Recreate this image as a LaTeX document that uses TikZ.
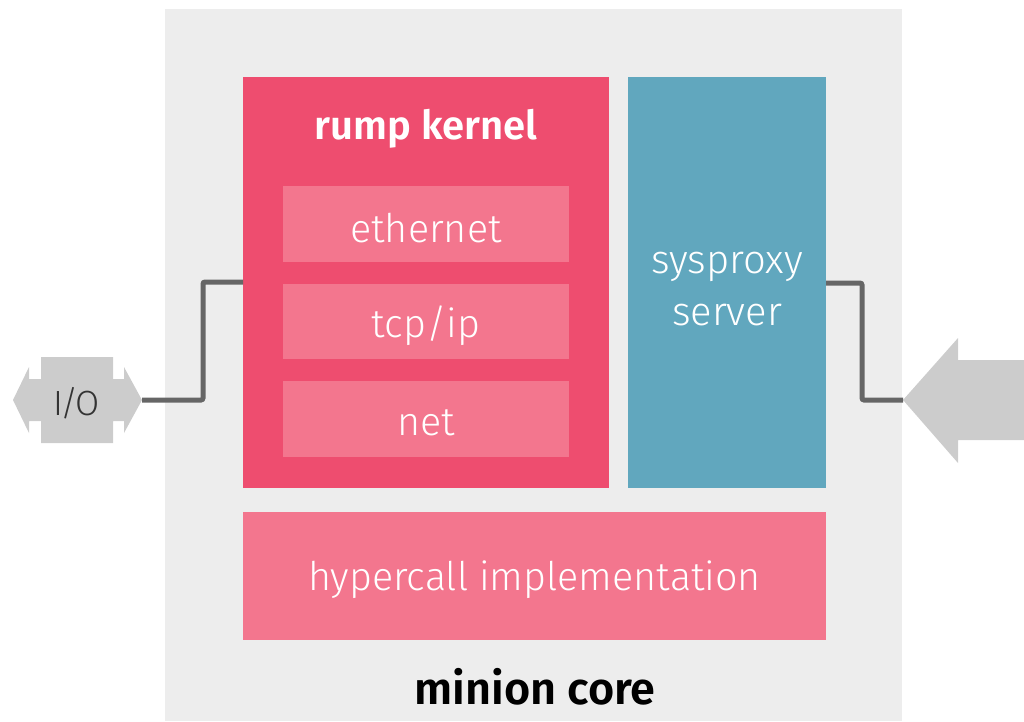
\documentclass[tikz,border=0pt]{standalone}
\usepackage{fontspec}
\setmainfont{Fira Sans Light}[BoldFont={Fira Sans SemiBold}]
\definecolor{corebg}{HTML}{EDEDED}
\definecolor{rumpred}{HTML}{EE4D6F}
\definecolor{layerpink}{HTML}{F3768E}
\definecolor{proxyblue}{HTML}{61A7BE}
\definecolor{portgray}{HTML}{CCCCCC}
\definecolor{wiregray}{HTML}{666666}
\definecolor{labeldark}{HTML}{333333}
\tikzset{
  px/.style={x=1pt,y=-1pt},
  block/.style={anchor=north west,inner sep=0pt,outer sep=0pt,text=white,align=center},
  layer/.style={block,fill=layerpink},
  lighttext/.style={font=\fontsize{39.5}{46}\selectfont,text=white,yshift=-4pt},
  wire/.style={draw=wiregray,line width=5pt,rounded corners=2pt},
  port/.style={fill=portgray,draw=none},
}
\begin{document}
\begin{tikzpicture}[px]
\useasboundingbox (0,0) rectangle (1024,721);
% minion core container
\node[block,fill=corebg,minimum width=737pt,minimum height=712pt] (core) at (165,9) {};
\node[font=\bfseries\fontsize{45}{50}\selectfont,text=black] (corelabel) at (535,687) {minion core};
% rump kernel
\node[block,fill=rumpred,minimum width=366pt,minimum height=411pt] (rump) at (243,77) {};
\node[font=\bfseries\fontsize{40}{48}\selectfont,text=white] (rumplabel) at (426,129) {rump kernel};
\node[layer,minimum width=286pt,minimum height=76pt] (eth) at (283,186) {};
\node[lighttext] at (eth.center) {ethernet};
\node[layer,minimum width=286pt,minimum height=75pt] (tcp) at (283,284) {};
\node[lighttext] at (tcp.center) {tcp/ip};
\node[layer,minimum width=286pt,minimum height=76pt] (net) at (283,381) {};
\node[lighttext] at (net.center) {net};
% sysproxy server
\node[block,fill=proxyblue,minimum width=198pt,minimum height=411pt] (proxy) at (628,77) {};
\node[font=\fontsize{40}{52}\selectfont,text=white,align=center] at (727,289) {sysproxy\\server};
% hypercall layer
\node[layer,minimum width=583pt,minimum height=128pt] (hyper) at (243,512) {};
\node[lighttext] at (hyper.center) {hypercall implementation};
% I/O double arrow
\fill[port] (13,400) -- (29,367) -- (29,379) -- (41,379) -- (41,357) -- (113,357) -- (113,379)
  -- (124,379) -- (124,367) -- (142,400) -- (124,433) -- (124,421) -- (113,421) -- (113,443)
  -- (41,443) -- (41,421) -- (29,421) -- (29,433) -- cycle;
\node[font=\fontsize{35}{40}\selectfont,text=labeldark] (io) at (77,403) {I\kern-3pt/\kern-3pt O};
\coordinate (iotip) at (142,400);
% incoming arrow on the right
\fill[port] (903,400) -- (958,338) -- (958,360) -- (1024,360) -- (1024,440) -- (958,440) -- (958,463) -- cycle;
\coordinate (intip) at (903,400);
% wires
\draw[wire] (iotip) -- (203,400) -- (203,282) -- (rump.west |- 0,282);
\draw[wire] (proxy.east |- 0,283) -- (862,283) -- (862,400) -- (intip);
\end{tikzpicture}
\end{document}
